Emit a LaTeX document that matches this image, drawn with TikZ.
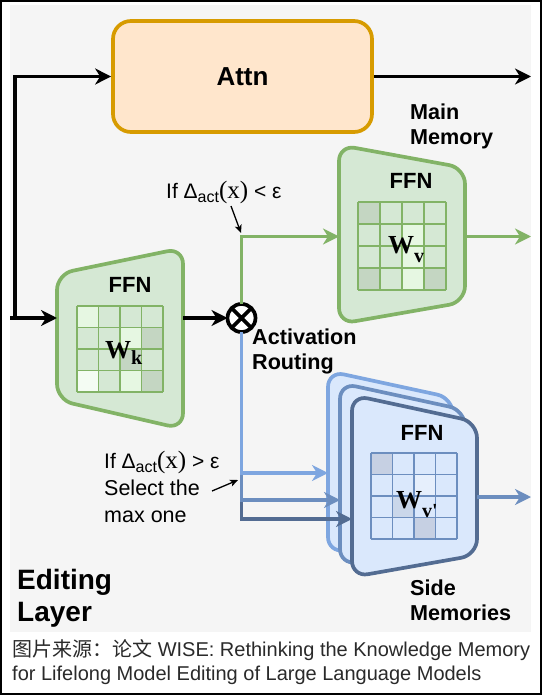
\documentclass[tikz,border=0pt]{standalone}
\usepackage{fontspec}
\setmainfont{Liberation Sans}
\newfontfamily\tnr{Liberation Serif}
\newfontfamily\cjk{Noto Sans CJK SC}
\usetikzlibrary{arrows.meta}
\definecolor{bgc}{HTML}{F5F5F5}
\definecolor{attnf}{HTML}{FFE6CC}
\definecolor{attnd}{HTML}{D79B00}
\definecolor{gf}{HTML}{D5E8D4}
\definecolor{gd}{HTML}{82B366}
\definecolor{glt}{HTML}{E6F7E2}
\definecolor{gwh}{HTML}{F4FCF3}
\definecolor{gdk}{HTML}{C4D6C2}
\definecolor{bf}{HTML}{DAE8FC}
\definecolor{bA}{HTML}{7EA6E0}
\definecolor{bB}{HTML}{6C8EBF}
\definecolor{bC}{HTML}{536C92}
\definecolor{bdk}{HTML}{C6D0E3}
\definecolor{bmd}{HTML}{CAD7EA}
\definecolor{blt}{HTML}{E6EFFC}
\definecolor{capc}{HTML}{2A2A2A}
\newcommand\fsz[1]{\fontsize{#1}{#1}\selectfont}
\newcommand\mygrid[4]{%
  \foreach \i in {0,...,4}{%
    \draw[#4,line width=1.3pt] ({#1+\i*#3},#2) -- ({#1+\i*#3},{#2+4*#3});
    \draw[#4,line width=1.3pt] (#1,{#2+\i*#3}) -- ({#1+4*#3},{#2+\i*#3});
  }}
\newcommand\mycell[6]{\fill[#6] ({#1+(#5-1)*#3},{#2+(#4-1)*#3}) rectangle ++(#3,#3);}
\begin{document}
\begin{tikzpicture}[x=1pt,y=-1pt,
  fat/.style={line width=3.7pt},
  tipb/.style={-{Stealth[length=16pt,width=16pt,inset=5pt]}},
  blk/.style={fat,tipb,draw=black},
  grn/.style={fat,tipb,draw=gd,color=gd},
  blu/.style={fat,tipb,draw=#1,color=#1},
  ann/.style={line width=1.3pt,-{Stealth[length=8pt,width=7pt,inset=2pt]}},
  lbl/.style={anchor=base west,inner sep=0,font=\bfseries\fsz{21.6}},
  txt/.style={anchor=base west,inner sep=0,font=\fsz{20}},
  ffn/.style={inner sep=0,font=\bfseries\fsz{22}},
  wlab/.style={anchor=base west,inner sep=0,font=\tnr\bfseries\fsz{26}},
  gshape/.style={fat,draw=gd,fill=gf,rounded corners=16pt}]
\useasboundingbox (0,0) rectangle (542,695);
\fill[white] (0,0) rectangle (542,695);
\fill[bgc] (10,5) rectangle (531,632);
\draw[line width=1.6pt] (0.8,0.8) rectangle (541.2,694.2);

% Attn
\node[fat,draw=attnd,fill=attnf,rounded corners=18pt,minimum width=259pt,minimum height=111pt,
  font=\bfseries\fsz{26}] (attn) at (242.5,76.5) {Attn};

% FFN k
\draw[gshape] (57,337) -- (57,274) -- (183,248) -- (183,429) -- (57,400) -- cycle;
\mycell{77}{306}{21.5}{1}{1}{glt}
\mycell{77}{306}{21.5}{2}{3}{glt}
\mycell{77}{306}{21.5}{4}{3}{glt}
\mycell{77}{306}{21.5}{4}{1}{gwh}
\mycell{77}{306}{21.5}{2}{4}{gdk}
\mycell{77}{306}{21.5}{3}{3}{gdk}
\mycell{77}{306}{21.5}{4}{4}{gdk}
\mygrid{77}{306}{21.5}{gd}
\node[ffn] (fkl) at (130,285) {FFN};
\node[wlab] (wk) at (105,358) {W\raisebox{-6pt}{\fsz{20}k}};
\coordinate (fkw) at (57,318);
\coordinate (fke) at (183,318);

% FFN v
\draw[gshape] (339,235) -- (339,145) -- (465,168) -- (465,302) -- (339,324) -- cycle;
\mycell{358}{202}{22}{1}{1}{gdk}
\mycell{358}{202}{22}{4}{1}{gdk}
\mycell{358}{202}{22}{4}{4}{gdk}
\mycell{358}{202}{22}{2}{3}{glt}
\mycell{358}{202}{22}{3}{3}{glt}
\mycell{358}{202}{22}{4}{3}{glt}
\mygrid{358}{202}{22}{gd}
\node[ffn] (fvl) at (411,181) {FFN};
\node[wlab] (wv) at (388,253) {W\raisebox{-9pt}{\fsz{20}v}};
\coordinate (fvw) at (339,236.5);
\coordinate (fve) at (465,236.5);

% side memories stack
\foreach \s/\c in {24/bA,12/bB,0/bC}{
  \draw[fat,draw=\c,fill=bf,rounded corners=16pt,shift={(-\s,-\s)}]
    (352,486) -- (352,395) -- (477,422) -- (477,555) -- (352,577) -- cycle;
}
\mycell{371}{453}{21.5}{1}{1}{bdk}
\mycell{371}{453}{21.5}{4}{3}{bdk}
\mycell{371}{453}{21.5}{3}{2}{bmd}
\mycell{371}{453}{21.5}{2}{3}{blt}
\mygrid{371}{453}{21.5}{bB}
\node[ffn] (fsl) at (422,433) {FFN};
\node[wlab] (wvp) at (396,508) {W\raisebox{-9pt}{\fsz{20}v'}};
\coordinate (s1) at (328,473);
\coordinate (s2) at (340,500);
\coordinate (s3) at (352,519);
\coordinate (sfe) at (477,497);

% routing node
\node[circle,draw,fat,fill=white,minimum size=28pt,inner sep=0,outer sep=0] (mix) at (241.5,318) {};
\draw[fat] (mix.north west) -- (mix.south east) (mix.north east) -- (mix.south west);

% connectors
\coordinate (in) at (10,318);
\coordinate (br) at (15,318);
\coordinate (out) at (531,76.5);
\coordinate (gout) at (531,236.5);
\coordinate (bout) at (531,497);
\draw[blk] (br) |- (attn.west);
\draw[blk] (in) -- (fkw);
\draw[blk] (attn.east) -- (out);
\draw[blk] (fke) -- (mix.west);
\draw[grn] (mix.north) |- (fvw);
\draw[grn] (fve) -- (gout);
\draw[blu=bC] (mix.south) |- (s3);
\draw[blu=bB] (mix.south) |- (s2);
\draw[blu=bA] (mix.south) |- (s1);
\draw[blu=bB] (sfe) -- (bout);

% labels
\node[lbl] (mm1) at (410,120) {Main};
\node[lbl] (mm2) at (410,145) {Memory};
\node[lbl] (ar1) at (252,344) {Activation};
\node[lbl] (ar2) at (252,369) {Routing};
\node[lbl] (sm1) at (410,595) {Side};
\node[lbl] (sm2) at (410,620) {Memories};
\node[lbl,font=\bfseries\fsz{28}] (el1) at (17,589) {Editing};
\node[lbl,font=\bfseries\fsz{28}] (el2) at (17,621) {Layer};

\node[txt,font=\fsz{21}] (cl) at (166,198) {If Δ\raisebox{-4pt}{\fsz{16}act}{\tnr\fsz{25}(x)} < ε};
\node[txt,font=\fsz{21}] (cg1) at (104,468) {If Δ\raisebox{-4pt}{\fsz{16}act}{\tnr\fsz{25}(x)} > ε};
\node[txt,font=\fsz{21.5}] (cg2) at (104,495) {Select the};
\node[txt,font=\fsz{21.5}] (cg3) at (104,522) {max one};
\coordinate (a1s) at (231,206);
\coordinate (a1e) at (241,233);
\coordinate (a2s) at (212,491);
\coordinate (a2e) at (238,480);
\draw[ann] (a1s) -- (a1e);
\draw[ann] (a2s) -- (a2e);

% caption
\node[txt,text=capc] (cap1) at (12,656) {{\cjk 图片来源：论文} WISE: Rethinking the Knowledge Memory};
\node[txt,text=capc] (cap2) at (12,680) {for Lifelong Model Editing of Large Language Models};
\end{tikzpicture}
\end{document}
